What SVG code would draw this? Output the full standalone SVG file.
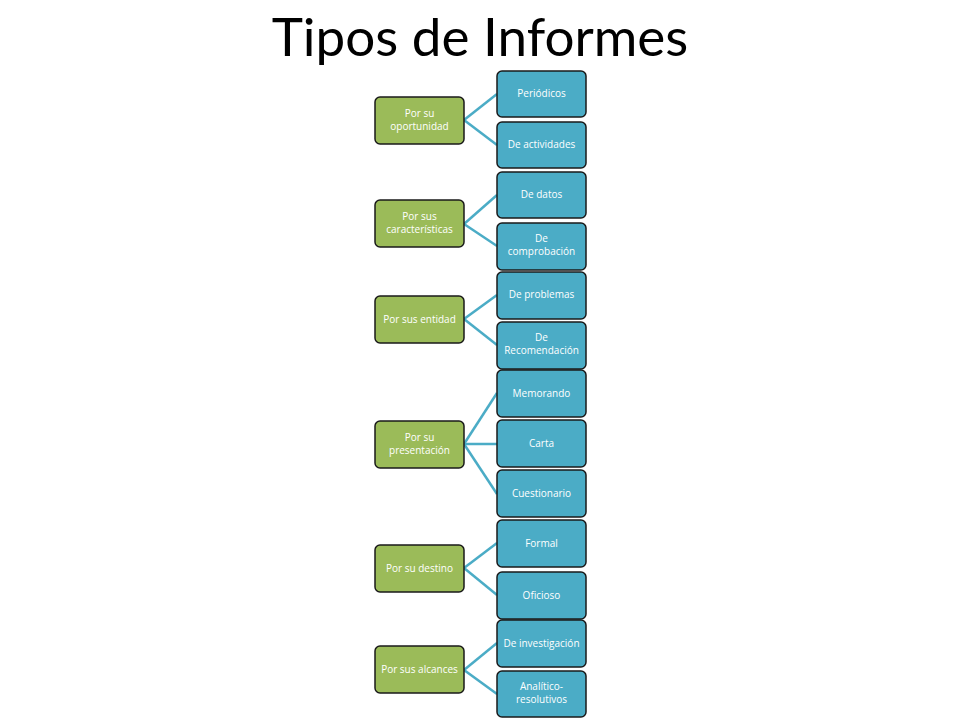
<svg xmlns="http://www.w3.org/2000/svg" width="960" height="720" viewBox="0 0 960 720">
<style>
.g{fill:#9bbb59;stroke:#1a1a1a;stroke-width:1.5}
.b{fill:#4bacc6;stroke:#1a1a1a;stroke-width:1.5}
.t{fill:#fff;font-family:"Open Sans","Liberation Sans",sans-serif;font-size:10px;text-anchor:middle}
#connectors line{stroke:#4bacc6;stroke-width:2.5}
</style>
<rect width="960" height="720" fill="#fff"/>
<text x="480" y="56" font-family="Lato,'Liberation Sans',sans-serif" font-size="53" text-anchor="middle" fill="#000">Tipos de Informes</text>
<g id="connectors">
<line x1="464" y1="120" x2="497" y2="94"/><line x1="464" y1="120" x2="497" y2="145"/>
<line x1="464" y1="224" x2="497" y2="195"/><line x1="464" y1="224" x2="497" y2="246"/>
<line x1="464" y1="319" x2="497" y2="295"/><line x1="464" y1="319" x2="497" y2="345"/>
<line x1="464" y1="444" x2="497" y2="393"/><line x1="464" y1="444" x2="497" y2="444"/><line x1="464" y1="444" x2="497" y2="494"/>
<line x1="464" y1="568" x2="497" y2="543"/><line x1="464" y1="568" x2="497" y2="595"/>
<line x1="464" y1="670" x2="497" y2="643"/><line x1="464" y1="670" x2="497" y2="694"/>
</g>
<g id="n1"><rect class="g" x="375" y="97" width="89" height="47" rx="5"/><text class="t" x="419.5" y="117">Por su</text><text class="t" x="419.5" y="130">oportunidad</text></g>
<g id="n2"><rect class="g" x="375" y="200" width="89" height="47" rx="5"/><text class="t" x="419.5" y="220">Por sus</text><text class="t" x="419.5" y="233">características</text></g>
<g id="n3"><rect class="g" x="375" y="296" width="89" height="47" rx="5"/><text class="t" x="419.5" y="323">Por sus entidad</text></g>
<g id="n4"><rect class="g" x="375" y="421" width="89" height="47" rx="5"/><text class="t" x="419.5" y="441">Por su</text><text class="t" x="419.5" y="454">presentación</text></g>
<g id="n5"><rect class="g" x="375" y="545" width="89" height="47" rx="5"/><text class="t" x="419.5" y="572">Por su destino</text></g>
<g id="n6"><rect class="g" x="375" y="646" width="89" height="47" rx="5"/><text class="t" x="419.5" y="673">Por sus alcances</text></g>
<g id="b1"><rect class="b" x="497" y="71" width="89" height="46" rx="5"/><text class="t" x="541.5" y="97">Periódicos</text></g>
<g id="b2"><rect class="b" x="497" y="122" width="89" height="46" rx="5"/><text class="t" x="541.5" y="148">De actividades</text></g>
<g id="b3"><rect class="b" x="497" y="172" width="89" height="46" rx="5"/><text class="t" x="541.5" y="198">De datos</text></g>
<g id="b4"><rect class="b" x="497" y="223" width="89" height="47" rx="5"/><text class="t" x="541.5" y="242">De</text><text class="t" x="541.5" y="255">comprobación</text></g>
<g id="b5"><rect class="b" x="497" y="272" width="89" height="47" rx="5"/><text class="t" x="541.5" y="298">De problemas</text></g>
<g id="b6"><rect class="b" x="497" y="322" width="89" height="47" rx="5"/><text class="t" x="541.5" y="341">De</text><text class="t" x="541.5" y="354">Recomendación</text></g>
<g id="b7"><rect class="b" x="497" y="370" width="89" height="47" rx="5"/><text class="t" x="541.5" y="397">Memorando</text></g>
<g id="b8"><rect class="b" x="497" y="420" width="89" height="47" rx="5"/><text class="t" x="541.5" y="447">Carta</text></g>
<g id="b9"><rect class="b" x="497" y="470" width="89" height="47" rx="5"/><text class="t" x="541.5" y="497">Cuestionario</text></g>
<g id="b10"><rect class="b" x="497" y="520" width="89" height="47" rx="5"/><text class="t" x="541.5" y="547">Formal</text></g>
<g id="b11"><rect class="b" x="497" y="572" width="89" height="47" rx="5"/><text class="t" x="541.5" y="599">Oficioso</text></g>
<g id="b12"><rect class="b" x="497" y="620" width="89" height="47" rx="5"/><text class="t" x="541.5" y="647">De investigación</text></g>
<g id="b13"><rect class="b" x="497" y="671" width="89" height="46" rx="5"/><text class="t" x="541.5" y="690">Analítico-</text><text class="t" x="541.5" y="703">resolutivos</text></g>
</svg>
